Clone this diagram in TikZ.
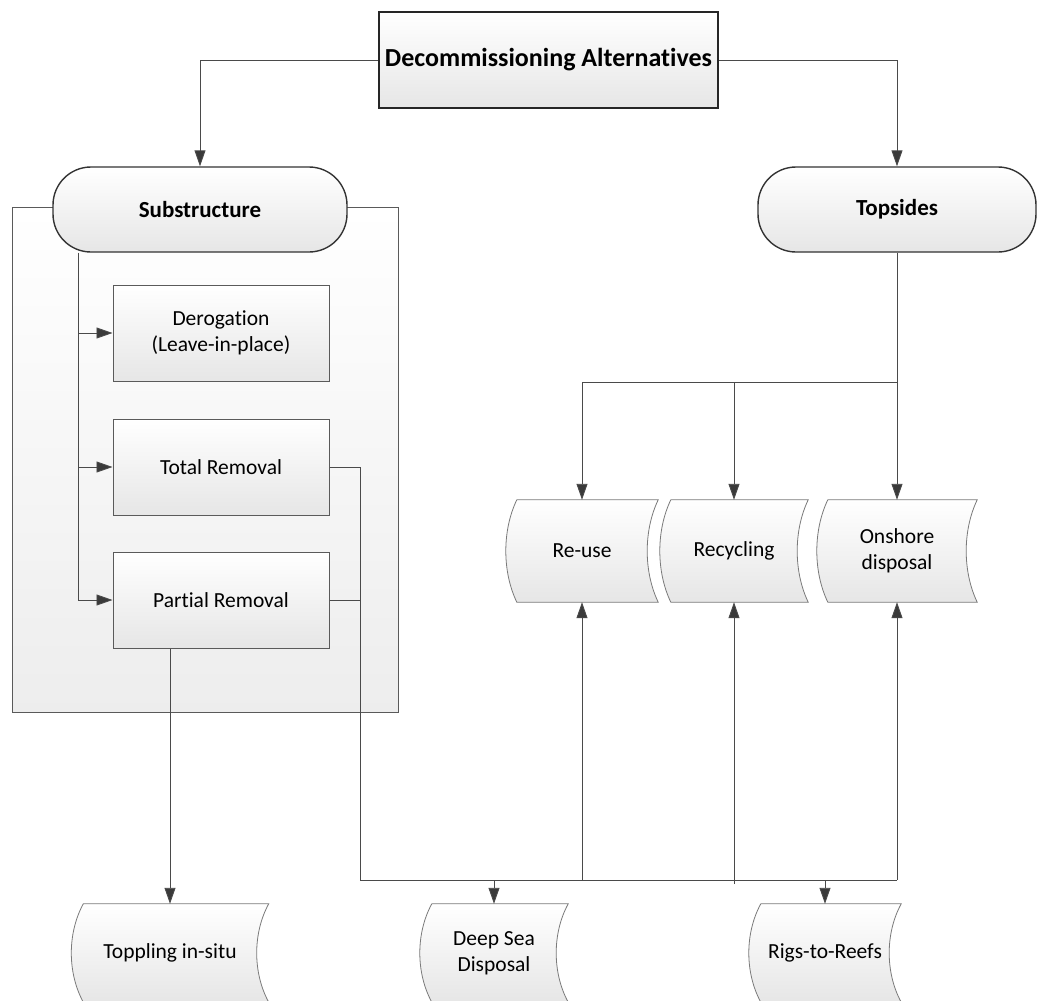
\documentclass[tikz,border=0pt]{standalone}
\usepackage{fontspec}
\setmainfont{Carlito}[Ligatures=NoCommon]
\usetikzlibrary{arrows.meta,calc}
\pgfdeclarelayer{bg}
\pgfsetlayers{bg,main}
\definecolor{linec}{HTML}{4A4A4A}
\definecolor{tipc}{HTML}{3A3A3A}
\definecolor{boxline}{HTML}{5A5A5A}
\definecolor{sdline}{HTML}{7A7A7A}
\definecolor{fillbot}{HTML}{E6E6E6}
\tikzset{
  conn/.style={draw=linec, line width=0.9pt},
  arr/.style={conn, -{Triangle[length=16pt,width=11pt,fill=tipc]}},
  titlebox/.style={draw=black!85, line width=1.8pt, top color=white, bottom color=fillbot,
    minimum width=339pt, minimum height=96pt, font=\fontsize{26}{31}\selectfont\bfseries},
  pill/.style={draw=black!80, line width=1.4pt, rounded corners=38pt, top color=white, bottom color=fillbot,
    minimum height=85pt, font=\fontsize{23}{27}\selectfont\bfseries},
  optbox/.style={draw=boxline, line width=1pt, top color=white, bottom color=fillbot,
    minimum width=216pt, minimum height=96pt, align=center, font=\fontsize{21.5}{26}\selectfont},
  sdtext/.style={inner sep=0pt, align=center, font=\fontsize{21.5}{26}\selectfont},
  sdshape/.style={draw=sdline, line width=0.8pt, top color=white, bottom color=fillbot},
  group/.style={draw=boxline, line width=1pt, top color=white, bottom color=black!7},
}
% stored-data node: name, x, y, width, height, bulge, text
\newcommand\sdnode[7]{%
  \node[sdtext, minimum width=#4pt, minimum height=#5pt] (#1) at (#2,#3) {#7};
  \begin{pgfonlayer}{bg}
  \draw[sdshape] ([xshift=#6pt]#1.north west) -- (#1.north east)
    .. controls ([xshift={-1.3333*#6pt},yshift={-0.3*#5pt}]#1.north east)
       and ([xshift={-1.3333*#6pt},yshift={0.3*#5pt}]#1.south east) .. (#1.south east)
    -- ([xshift=#6pt]#1.south west)
    .. controls ([xshift={-0.3333*#6pt},yshift={0.3*#5pt}]#1.south west)
       and ([xshift={-0.3333*#6pt},yshift={-0.3*#5pt}]#1.north west) .. ([xshift=#6pt]#1.north west)
    -- cycle;
  \end{pgfonlayer}
}
\begin{document}
\begin{tikzpicture}[x=1pt,y=-1pt]
\useasboundingbox (0,0) rectangle (1037,1001);
\begin{pgfonlayer}{bg}
\fill[white] (0,0) rectangle (1037,1001);
\end{pgfonlayer}

% group frame behind the substructure options
\draw[group] (12,207) rectangle (398,712);

% main nodes
\node[titlebox] (T) at (548.5,60) {Decommissioning Alternatives};
\node[pill, minimum width=294pt] (S) at (200,209.5) {Substructure};
\node[pill, minimum width=278pt] (P) at (897,209.5) {Topsides};

\node[optbox] (D) at (221,333) {Derogation\\(Leave-in-place)};
\node[optbox] (R) at (221,467) {Total Removal};
\node[optbox] (Q) at (221,600) {Partial Removal};

\sdnode{RU}{582}{551}{152}{102}{11}{Re-use}
\sdnode{RC}{734}{551}{148}{102}{11}{Recycling}
\sdnode{ON}{897}{551}{160}{102}{11}{Onshore\\disposal}

\sdnode{TP}{170}{953}{197}{98}{12}{Toppling in-situ}
\sdnode{DS}{494}{953}{148}{98}{12}{Deep Sea\\Disposal}
\sdnode{RR}{825}{953}{152}{98}{12}{Rigs-to-Reefs}

% helper coordinates
\coordinate (sx) at (78,0);
\coordinate (tb) at (0,382);
\coordinate (bx) at (360,880);

% title to branches
\draw[arr] (T.west) -| (S.north);
\draw[arr] (T.east) -| (P.north);

% substructure options
\draw[conn] (sx |- S.south) -- (sx |- Q.west);
\foreach \n in {D,R,Q} \draw[arr] (sx |- \n.west) -- (\n.west);

% topsides fan-out
\draw[conn] (P.south) -- (P.south |- tb) -- (RU.north |- tb);
\draw[arr] (RU.north |- tb) -- (RU.north);
\draw[arr] (RC.north |- tb) -- (RC.north);
\draw[arr] (P.south |- tb) -- (ON.north);

% removal bus
\draw[conn] (R.east) -| (bx);
\draw[conn] (Q.east) -- (Q.east -| bx);
\draw[conn] (bx) -- (ON.south |- bx);
\draw[arr] (RU.south |- bx) -- (RU.south);
\draw[arr] ([yshift=-4pt]RC.south |- bx) -- (RC.south);
\draw[arr] (ON.south |- bx) -- (ON.south);
\draw[arr] (DS.north |- bx) -- (DS.north);
\draw[arr] (RR.north |- bx) -- (RR.north);

% partial removal to toppling
\draw[arr] (Q.south -| TP.north) -- (TP.north);
\end{tikzpicture}
\end{document}
